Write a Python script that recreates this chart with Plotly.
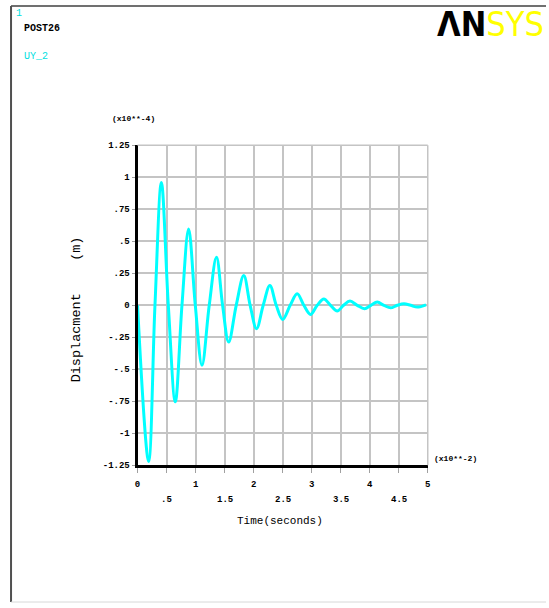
import plotly.graph_objects as go

# ---- data ----
time_x100 = [0, 0.19, 0.30, 0.41, 0.53, 0.65, 0.765, 0.88, 0.995, 1.11, 1.235, 1.36,
             1.465, 1.57, 1.70, 1.83, 1.94, 2.05, 2.165, 2.28, 2.39, 2.50, 2.63, 2.75,
             2.865, 2.98, 3.095, 3.21, 3.325, 3.44, 3.55, 3.66, 3.785, 3.91, 4.02, 4.13,
             4.245, 4.36, 4.475, 4.59, 4.705, 4.82, 4.97]
uy_x1e4 = [0, -1.22, 0, 0.96, 0, -0.754, 0, 0.596, 0, -0.469, 0, 0.375,
           0, -0.287, 0, 0.232, 0, -0.183, 0, 0.154, 0, -0.11, 0, 0.09,
           0, -0.072, 0, 0.05, 0, -0.045, 0, 0.033, 0, -0.027, 0, 0.025,
           0, -0.02, 0, 0.012, 0, -0.014, 0.004]

x_major_vals = [0, 1, 2, 3, 4, 5]
x_major_text = ["0", "1", "2", "3", "4", "5"]
x_half_vals = [0.5, 1.5, 2.5, 3.5, 4.5]
x_half_text = [".5", "1.5", "2.5", "3.5", "4.5"]
x_grid_vals = [0, 0.5, 1, 1.5, 2, 2.5, 3, 3.5, 4, 4.5, 5]
y_tickvals = [1.25, 1, 0.75, 0.5, 0.25, 0, -0.25, -0.5, -0.75, -1, -1.25]
y_ticktext = ["1.25", "1", ".75", ".5", ".25", "0", "-.25", "-.5", "-.75", "-1", "-1.25"]

W, H = 549, 608
OFF, SC = 4.0, 0.985   # compensation for the capture framing


def px(x):
    return min(1.0, max(0.0, ((x - OFF) / SC) / W))


def py(y):
    return min(1.0, max(0.0, 1 - ((y - OFF) / SC) / H))


MONO = "Liberation Mono, Courier New, monospace"

fig = go.Figure()
fig.add_trace(go.Scatter(
    x=time_x100, y=uy_x1e4, mode="lines",
    line=dict(color="#00FFFF", width=3, shape="spline", smoothing=1.0),
    showlegend=False, hoverinfo="skip",
))

fig.update_layout(
    width=W, height=H,
    margin=dict(l=0, r=0, t=0, b=0),
    paper_bgcolor="white", plot_bgcolor="white",
    font=dict(family=MONO, size=9, color="black"),
    xaxis=dict(
        domain=[px(138), px(427)], range=[0, 5],
        tickvals=x_grid_vals,
        ticktext=[x_major_text[x_major_vals.index(v)] if v in x_major_vals else "" for v in x_grid_vals],
        showgrid=True, gridcolor="#c4c4c4", gridwidth=1.5,
        showline=True, linecolor="black", linewidth=3,
        ticks="outside", ticklen=5, tickcolor="#a0a0a0", tickwidth=1,
        zeroline=False, fixedrange=True, ticklabelstandoff=3,
        tickfont=dict(family=MONO, size=9, color="black", weight="bold"),
    ),
    yaxis=dict(
        domain=[py(466), py(145.5)], range=[-1.25, 1.25],
        tickvals=y_tickvals, ticktext=y_ticktext,
        showgrid=True, gridcolor="#c4c4c4", gridwidth=1.5,
        showline=True, linecolor="black", linewidth=3,
        ticks="outside", ticklen=3, tickcolor="#a0a0a0", tickwidth=1,
        zeroline=False, fixedrange=True,
        tickfont=dict(family=MONO, size=9, color="black", weight="bold"),
    ),
)

# half-unit x labels on a second row
for v, t in zip(x_half_vals, x_half_text):
    fig.add_annotation(text=t, xref="x", yref="paper", x=v, y=py(501),
                       xanchor="center", yanchor="middle", showarrow=False,
                       font=dict(family=MONO, size=9, color="black", weight="bold"))

# frame of the ANSYS graphics window
fig.add_shape(type="line", xref="paper", yref="paper", x0=px(12), x1=1, y0=py(6), y1=py(6),
              line=dict(color="#707070", width=2))
fig.add_shape(type="line", xref="paper", yref="paper", x0=px(12), x1=px(12), y0=py(6), y1=0,
              line=dict(color="#505050", width=2))
fig.add_shape(type="line", xref="paper", yref="paper", x0=px(12), x1=1, y0=py(606), y1=py(606),
              line=dict(color="#d8d8d8", width=1))
# top / right plot border (grey)
fig.add_shape(type="line", xref="x domain", yref="y domain", x0=0, x1=1, y0=1, y1=1,
              line=dict(color="#c4c4c4", width=1.5))
fig.add_shape(type="line", xref="x domain", yref="y domain", x0=1, x1=1, y0=0, y1=1,
              line=dict(color="#c4c4c4", width=1.5))

ann = [
    dict(text="1", x=px(15), y=py(14), font=dict(family=MONO, size=10, color="#00E0E0")),
    dict(text="POST26", x=px(23), y=py(29), font=dict(family=MONO, size=10, color="black", weight="bold")),
    dict(text="UY_2", x=px(23), y=py(57), font=dict(family=MONO, size=10, color="#00E0E0")),
    dict(text="(x10**-4)", x=px(111), y=py(119), font=dict(family=MONO, size=8, color="black", weight="bold")),
    dict(text="(x10**-2)", x=px(431), y=py(459), font=dict(family=MONO, size=8, color="black", weight="bold")),
]
for a in ann:
    fig.add_annotation(xref="paper", yref="paper", xanchor="left", yanchor="middle",
                       showarrow=False, **a)

fig.add_annotation(text="Time(seconds)", xref="paper", yref="paper", x=px(279.5), y=py(522),
                   xanchor="center", yanchor="middle", showarrow=False,
                   font=dict(family=MONO, size=11, color="black"))
fig.add_annotation(text="Displacment    (m)", xref="paper", yref="paper", x=px(77), y=py(309.5),
                   xanchor="center", yanchor="middle", showarrow=False, textangle=-90,
                   font=dict(family=MONO, size=13.5, color="black"))

# ANSYS logo
fig.add_annotation(text="<b>ΛN</b><span style='color:#FFFF00'>SYS</span>",
                   xref="paper", yref="paper", x=1.0, y=py(24),
                   xanchor="right", yanchor="middle", showarrow=False,
                   font=dict(family="DejaVu Sans Condensed, Liberation Sans Narrow, Liberation Sans, Arial",
                             size=34, color="black"))

fig.write_html(
    "out.html",
    config={"displayModeBar": False, "responsive": False},
    post_script=("document.documentElement.style.margin='0';"
                 "document.documentElement.style.padding='0';"
                 "document.documentElement.style.overflow='hidden';"
                 "document.body.style.margin='0';document.body.style.padding='0';"
                 "document.body.style.overflow='hidden';"),
)
